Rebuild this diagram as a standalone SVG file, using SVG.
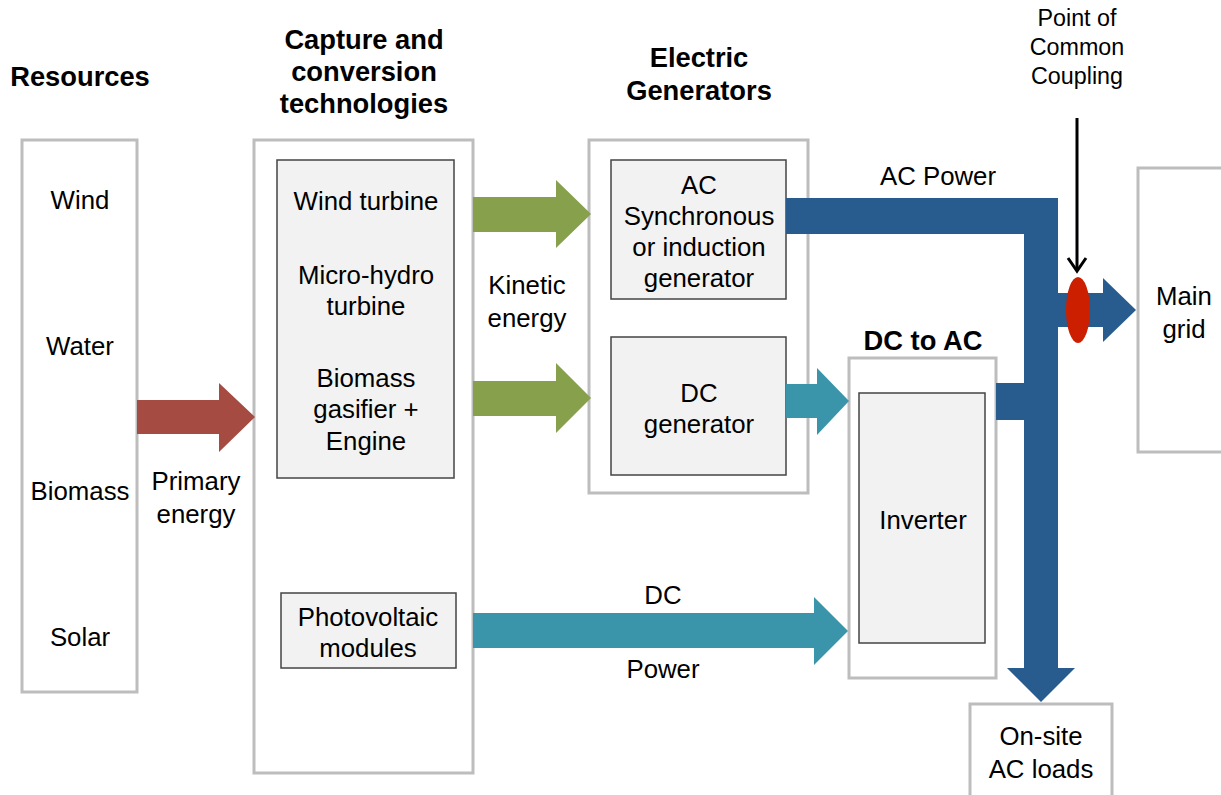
<svg xmlns="http://www.w3.org/2000/svg" width="1221" height="795" viewBox="0 0 1221 795">
<style>
.outer{fill:#fff;stroke:#BDBDBD;stroke-width:3}
.inner{fill:#F2F2F2;stroke:#444;stroke-width:1.5}
text{font-family:"Liberation Sans",Arial,sans-serif;font-size:25.8px;fill:#000;text-anchor:middle}
.b{font-weight:bold;font-size:27.3px}
.s{font-size:23.3px}
</style>
<rect width="1221" height="795" fill="#fff"/>
<g id="titles">
<text class="b" x="80" y="86">Resources</text>
<text class="b" x="364" y="49">Capture and</text>
<text class="b" x="364" y="81">conversion</text>
<text class="b" x="364" y="113">technologies</text>
<text class="b" x="699" y="67">Electric</text>
<text class="b" x="699" y="100">Generators</text>
<text class="s" x="1077" y="26">Point of</text>
<text class="s" x="1077" y="55">Common</text>
<text class="s" x="1077" y="84">Coupling</text>
</g>
<g id="resources">
<rect class="outer" x="22" y="140" width="115" height="552"/>
<text x="80" y="209">Wind</text>
<text x="80" y="355">Water</text>
<text x="80" y="500">Biomass</text>
<text x="80" y="646">Solar</text>
</g>
<g id="capture">
<rect class="outer" x="254" y="140" width="219" height="633"/>
<rect class="inner" x="277" y="160" width="177" height="318"/>
<text x="366" y="210">Wind turbine</text>
<text x="366" y="284">Micro-hydro</text>
<text x="366" y="315">turbine</text>
<text x="366" y="387">Biomass</text>
<text x="366" y="418">gasifier +</text>
<text x="366" y="450">Engine</text>
<rect class="inner" x="281" y="593" width="175" height="75"/>
<text x="368" y="626">Photovoltaic</text>
<text x="368" y="657">modules</text>
</g>
<g id="generators">
<rect class="outer" x="589" y="140" width="219" height="353"/>
<rect class="inner" x="611" y="160" width="175" height="139"/>
<text x="699" y="194">AC</text>
<text x="699" y="225">Synchronous</text>
<text x="699" y="256">or induction</text>
<text x="699" y="287">generator</text>
<rect class="inner" x="611" y="337" width="175" height="138"/>
<text x="699" y="402">DC</text>
<text x="699" y="433">generator</text>
</g>
<g id="dctoac">
<text class="b" x="923" y="350">DC to AC</text>
<rect class="outer" x="849" y="358" width="147" height="320"/>
<rect class="inner" x="859" y="393" width="126" height="250"/>
<text x="923" y="529">Inverter</text>
</g>
<g id="maingrid">
<rect class="outer" x="1138" y="168" width="100" height="284"/>
<text x="1184" y="305">Main</text>
<text x="1184" y="338">grid</text>
</g>
<g id="loads">
<rect class="outer" x="970" y="704" width="142" height="100"/>
<text x="1041" y="745">On-site</text>
<text x="1041" y="778">AC loads</text>
</g>
<g id="connectors">
<polygon fill="#A54B42" points="137,400 219,400 219,383 255,417 219,452 219,434 137,434"/>
<polygon fill="#86A04B" points="473,197 556,197 556,180 591,214 556,248 556,232 473,232"/>
<polygon fill="#86A04B" points="473,381 556,381 556,363 591,398 556,433 556,416 473,416"/>
<polygon fill="#3A94AA" points="786,384 817,384 817,368 849,401 817,435 817,418 786,418"/>
<polygon fill="#3A94AA" points="473,613 814,613 814,597 848,631 814,665 814,648 473,648"/>
<polygon fill="#285B8E" points="786,198 1058,198 1058,668 1075,668 1041,702 1007,668 1024,668 1024,420 996,420 996,383 1024,383 1024,234 786,234"/>
<polygon fill="#285B8E" points="1058,293 1103,293 1103,278 1136,310 1103,342 1103,327 1058,327"/>
<ellipse cx="1078" cy="310" rx="12" ry="33" fill="#CC1F00"/>
<line x1="1077" y1="118" x2="1077" y2="270" stroke="#000" stroke-width="3"/>
<polyline points="1068,258 1077,271 1086,258" fill="none" stroke="#000" stroke-width="3"/>
<text x="527" y="294">Kinetic</text>
<text x="527" y="327">energy</text>
<text x="196" y="490">Primary</text>
<text x="196" y="523">energy</text>
<text x="663" y="604">DC</text>
<text x="663" y="678">Power</text>
<text x="938" y="185">AC Power</text>
</g>
</svg>
